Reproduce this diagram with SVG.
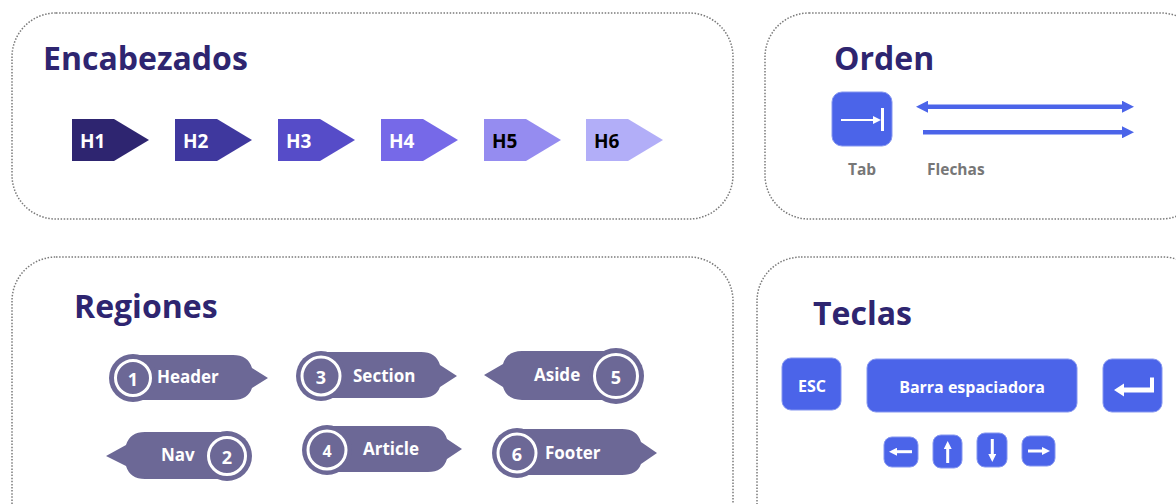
<svg xmlns="http://www.w3.org/2000/svg" width="1176" height="504" viewBox="0 0 1176 504">
<defs>
<style>
.panel{fill:none;stroke:#7a7a7a;stroke-width:1.5;stroke-dasharray:1.5 1.6}
.title{font-family:"Open Sans","Noto Sans",sans-serif;font-weight:700;font-size:32px;fill:#2e2570}
.hl{font-family:"Open Sans","Noto Sans",sans-serif;font-weight:700;font-size:19px}
.reg{fill:#6c6896}
.ring{fill:none;stroke:#ffffff;stroke-width:3}
.rt{font-family:"Open Sans","Noto Sans",sans-serif;font-weight:700;font-size:17px;fill:#ffffff}
.num{font-family:"Open Sans","Noto Sans",sans-serif;font-weight:700;font-size:18px;fill:#ffffff;text-anchor:middle}
.key{fill:#4b64e9;stroke:#8596f0;stroke-width:1}
.kt{font-family:"Open Sans","Noto Sans",sans-serif;font-weight:700;font-size:16px;fill:#ffffff;text-anchor:middle}
.gl{font-family:"Open Sans","Noto Sans",sans-serif;font-weight:700;font-size:15.5px;fill:#777777}
.wl{stroke:#ffffff;fill:none}
.bl{stroke:#4b64e9;stroke-width:4.5;fill:none}
</style>
<marker id="ah" markerUnits="userSpaceOnUse" markerWidth="12" markerHeight="12" refX="0" refY="6" orient="auto-start-reverse" viewBox="0 0 12 12">
<path d="M0,0 L12,6 L0,12 Z" fill="#4b64e9"/>
</marker>
<marker id="wh" markerUnits="userSpaceOnUse" markerWidth="8" markerHeight="8" refX="0" refY="4" orient="auto" viewBox="0 0 8 8">
<path d="M0,0 L8,4 L0,8 Z" fill="#ffffff"/>
</marker>
</defs>
<rect width="1176" height="504" fill="#ffffff"/>

<g id="panel-encabezados">
<rect class="panel" x="12" y="13" width="721" height="206" rx="44"/>
<text class="title" x="43" y="70">Encabezados</text>
</g>
<g id="h1"><path d="M72,119 H114 L149,140 L114,161 H72 Z" fill="#2e2570"/><text class="hl" x="80" y="148" fill="#ffffff">H1</text></g>
<g id="h2"><path d="M175,119 H217 L252,140 L217,161 H175 Z" fill="#3f389e"/><text class="hl" x="183" y="148" fill="#ffffff">H2</text></g>
<g id="h3"><path d="M278,119 H320 L355,140 L320,161 H278 Z" fill="#564cc8"/><text class="hl" x="286" y="148" fill="#ffffff">H3</text></g>
<g id="h4"><path d="M381,119 H423 L458,140 L423,161 H381 Z" fill="#7669e8"/><text class="hl" x="389" y="148" fill="#ffffff">H4</text></g>
<g id="h5"><path d="M484,119 H526 L561,140 L526,161 H484 Z" fill="#958cf0"/><text class="hl" x="492" y="148" fill="#000000">H5</text></g>
<g id="h6"><path d="M586,119 H628 L663,140 L628,161 H586 Z" fill="#b2aef8"/><text class="hl" x="594" y="148" fill="#000000">H6</text></g>

<g id="panel-orden">
<rect class="panel" x="765" y="13" width="440" height="206" rx="44"/>
<text class="title" x="834" y="70">Orden</text>
</g>
<g id="tab">
<rect class="key" x="832" y="92" width="60" height="54" rx="10"/>
<line class="wl" x1="841" y1="120" x2="873" y2="120" stroke-width="2" marker-end="url(#wh)"/>
<line class="wl" x1="882.5" y1="108" x2="882.5" y2="131" stroke-width="3"/>
<text class="gl" x="862" y="175" text-anchor="middle">Tab</text>
</g>
<g id="flechas">
<text class="gl" x="927" y="175">Flechas</text>
</g>
<g id="connectors">
<line class="bl" x1="928" y1="106.7" x2="1122" y2="106.7" marker-start="url(#ah)" marker-end="url(#ah)"/>
<line class="bl" x1="923" y1="132.3" x2="1122" y2="132.3" marker-end="url(#ah)"/>
</g>

<g id="panel-regiones">
<rect class="panel" x="12" y="257" width="721" height="290" rx="44"/>
<text class="title" x="74" y="318">Regiones</text>
</g>
<g id="r-header">
<path class="reg" d="M132,355 H233 Q248,355 252,368 L268,378 L252,388 Q248,400 233,400 H132 Z"/>
<circle class="reg" cx="133" cy="378" r="24"/>
<circle class="ring" cx="133" cy="378" r="17.5"/>
<text class="num" x="133" y="386">1</text>
<text class="rt" x="157" y="383">Header</text>
</g>
<g id="r-nav">
<path class="reg" d="M227,432 H145 Q130,432 126,445 L106,456 L126,466 Q130,479 145,479 H227 Z"/>
<circle class="reg" cx="227" cy="456" r="25"/>
<circle class="ring" cx="227" cy="456" r="18.5"/>
<text class="num" x="227" y="464">2</text>
<text class="rt" x="161" y="461">Nav</text>
</g>
<g id="r-section">
<path class="reg" d="M321,352 H421 Q436,352 440,365 L457,376 L440,387 Q436,398 421,398 H321 Z"/>
<circle class="reg" cx="321" cy="376" r="25"/>
<circle class="ring" cx="321" cy="376" r="19"/>
<text class="num" x="321" y="384">3</text>
<text class="rt" x="353" y="382">Section</text>
</g>
<g id="r-article">
<path class="reg" d="M327,426 H428 Q443,426 447,439 L462,449 L447,459 Q443,472 428,472 H327 Z"/>
<circle class="reg" cx="327" cy="450" r="25"/>
<circle class="ring" cx="327" cy="450" r="19"/>
<text class="num" x="327" y="457" style="font-size:16px">4</text>
<text class="rt" x="363" y="455">Article</text>
</g>
<g id="r-aside">
<path class="reg" d="M616,351 H522 Q507,351 503,364 L484,375 L503,387 Q507,400 522,400 H616 Z"/>
<circle class="reg" cx="616" cy="376" r="28"/>
<circle class="ring" cx="616" cy="376" r="21.5"/>
<text class="num" x="616" y="384">5</text>
<text class="rt" x="534" y="381">Aside</text>
</g>
<g id="r-footer">
<path class="reg" d="M517,429 H622 Q637,429 641,442 L657,453 L641,464 Q637,475 622,475 H517 Z"/>
<circle class="reg" cx="517" cy="453" r="25"/>
<circle class="ring" cx="517" cy="453" r="19"/>
<text class="num" x="517" y="461">6</text>
<text class="rt" x="545" y="459">Footer</text>
</g>

<g id="panel-teclas">
<rect class="panel" x="757" y="257" width="450" height="290" rx="44"/>
<text class="title" x="813" y="325">Teclas</text>
</g>
<g id="k-esc">
<rect class="key" x="782" y="358" width="59" height="52" rx="9"/>
<text class="kt" x="812" y="392">ESC</text>
</g>
<g id="k-space">
<rect class="key" x="867" y="359" width="210" height="53" rx="9"/>
<text class="kt" x="972" y="393">Barra espaciadora</text>
</g>
<g id="k-enter">
<rect class="key" x="1103" y="359" width="59" height="53" rx="9"/>
<path d="M1150,377.5 H1154 V392.5 H1124 V396.5 L1114,390 L1124,383.5 V387.5 H1150 Z" fill="#ffffff"/>
</g>
<g id="k-left">
<rect class="key" x="884" y="437" width="34" height="30" rx="8"/>
<line class="wl" x1="912" y1="451.7" x2="897" y2="451.7" stroke-width="3" marker-end="url(#wh)"/>
</g>
<g id="k-up">
<rect class="key" x="933" y="435" width="29" height="33" rx="8"/>
<line class="wl" x1="947.7" y1="463" x2="947.7" y2="449" stroke-width="3" marker-end="url(#wh)"/>
</g>
<g id="k-down">
<rect class="key" x="977" y="433" width="30" height="34" rx="8"/>
<line class="wl" x1="992.3" y1="439" x2="992.3" y2="454" stroke-width="3" marker-end="url(#wh)"/>
</g>
<g id="k-right">
<rect class="key" x="1022" y="436" width="33" height="30" rx="8"/>
<line class="wl" x1="1028" y1="451" x2="1042" y2="451" stroke-width="3" marker-end="url(#wh)"/>
</g>
</svg>
